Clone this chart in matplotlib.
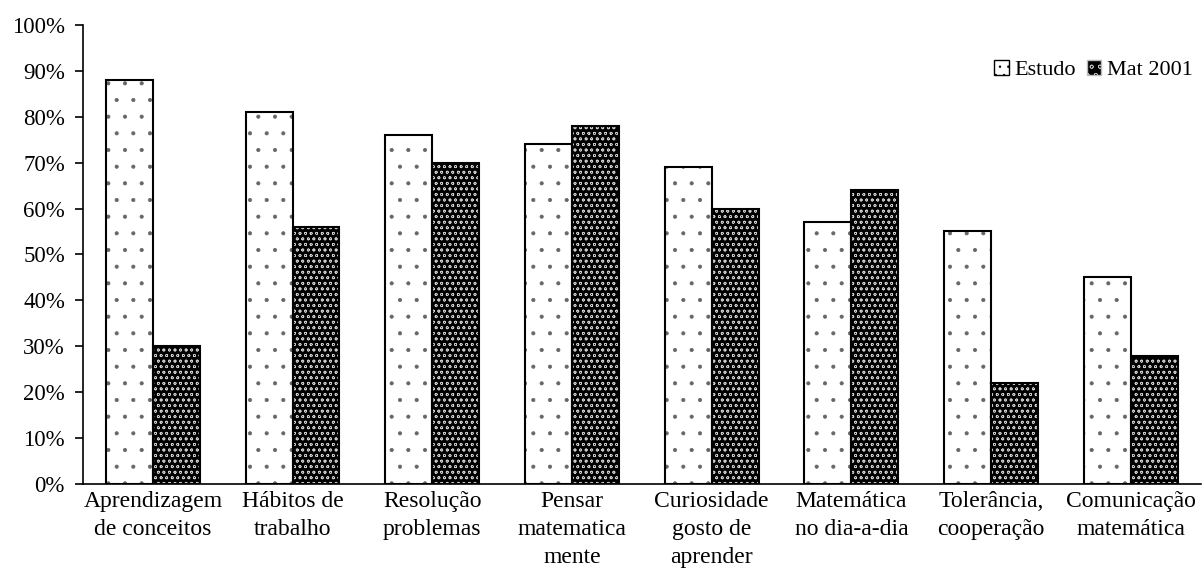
import numpy as np
import matplotlib.pyplot as plt
from matplotlib.patches import Patch

plt.rcParams['font.family'] = ['Liberation Serif', 'DejaVu Serif']
plt.rcParams['hatch.linewidth'] = 0.5

categorias = ['Aprendizagem\nde conceitos', 'Hábitos de\ntrabalho', 'Resolução\nproblemas',
              'Pensar\nmatematica\nmente', 'Curiosidade\ngosto de\naprender',
              'Matemática\nno dia-a-dia', 'Tolerância,\ncooperação', 'Comunicação\nmatemática']
estudo = [88, 81, 76, 74, 69, 57, 55, 45]
mat2001 = [30, 56, 70, 78, 60, 64, 22, 28]
ticks = [0, 10, 20, 30, 40, 50, 60, 70, 80, 90, 100]

fig = plt.figure(figsize=(12.03, 5.77), dpi=100)
ax = fig.add_axes([0.069, 0.161, 0.929, 0.796])

x = np.arange(len(categorias))
w = 0.336

# Estudo: branco com pontos
ax.bar(x - w / 2, estudo, w, color='white', edgecolor='#666666', hatch='.', linewidth=0)
ax.bar(x - w / 2, estudo, w, fill=False, edgecolor='black', linewidth=1.5)
# Mat 2001: preto com tracos brancos
ax.bar(x + w / 2, mat2001, w, color='black', edgecolor='#cccccc', hatch='ooo', linewidth=0)
ax.bar(x + w / 2, mat2001, w, fill=False, edgecolor='black', linewidth=1.5)

h1 = Patch(facecolor='white', edgecolor='black', hatch='..', linewidth=1)
h2 = Patch(facecolor='black', edgecolor='#bbbbbb', hatch='oo', linewidth=1)
ax.legend([h1, h2], ['Estudo', 'Mat 2001'], loc='center right', bbox_to_anchor=(0.993, 0.902),
          ncol=2, frameon=False, fontsize=16, handlelength=0.65, handleheight=0.65,
          handletextpad=0.25, columnspacing=0.5, borderpad=0, borderaxespad=0)

ax.set_xlim(-0.5, len(categorias) - 0.5)
ax.set_ylim(0, 100)
ax.set_yticks(ticks)
ax.set_yticklabels([f'{t}%' for t in ticks], fontsize=16.5)
ax.set_xticks(x)
ax.set_xticklabels(categorias, fontsize=17, linespacing=1.45)
ax.tick_params(axis='x', length=0, pad=5)
ax.tick_params(axis='y', direction='out', length=6, width=1.2, pad=7)

ax.spines['top'].set_visible(False)
ax.spines['right'].set_visible(False)
ax.spines['left'].set_linewidth(1.2)
ax.spines['bottom'].set_linewidth(1.2)

plt.savefig('out.png')
plt.close()
